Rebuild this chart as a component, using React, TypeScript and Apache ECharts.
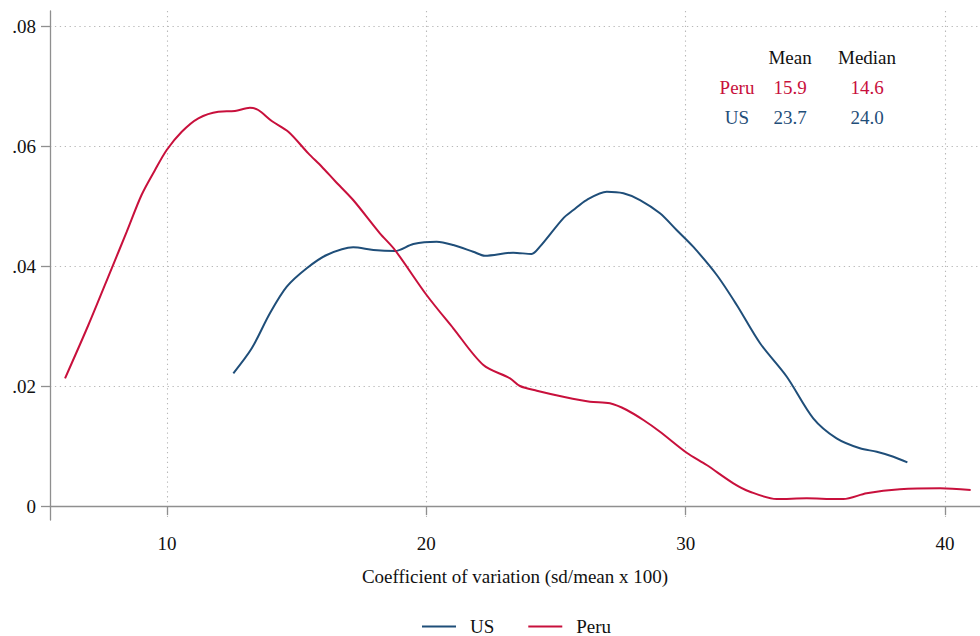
import React, { useEffect, useRef } from "react";
import * as echarts from "echarts";

const peruX = [6.07, 6.97, 7.87, 8.45, 9.02, 9.54, 9.99, 10.57, 11.21, 11.98, 12.62, 13.2, 13.52, 14.04, 14.68, 15.45, 15.97, 16.48, 17.18, 18.21, 18.79, 20.01, 21.04, 22.2, 23.23, 23.61, 24.26, 25.28, 26.31, 27.08, 27.73, 28.37, 29.01, 30.04, 30.81, 31.84, 32.48, 33.51, 34.67, 35.82, 36.08, 36.98, 38.26, 39.81, 40.99];
const peruY = [0.02128, 0.03017, 0.03962, 0.04572, 0.05183, 0.056, 0.05933, 0.06238, 0.06462, 0.06572, 0.06583, 0.06638, 0.066, 0.06417, 0.06238, 0.05878, 0.05655, 0.05417, 0.051, 0.04545, 0.04267, 0.03517, 0.02962, 0.0235, 0.02128, 0.02, 0.01922, 0.01822, 0.01738, 0.01712, 0.016, 0.01433, 0.01238, 0.00888, 0.00683, 0.00378, 0.00238, 0.00117, 0.00128, 0.00117, 0.00117, 0.00212, 0.00278, 0.00295, 0.00267];

const usX = [12.56, 13.27, 13.97, 14.62, 15.39, 16.16, 17.18, 17.96, 18.79, 19.5, 20.4, 21.04, 21.81, 22.26, 23.35, 24.06, 24.38, 25.28, 25.67, 26.18, 26.96, 27.6, 28.24, 29.01, 29.65, 30.29, 31.2, 31.97, 32.87, 33.9, 34.92, 35.82, 36.72, 37.37, 38.01, 38.55];
const usY = [0.02212, 0.02628, 0.03212, 0.03655, 0.03962, 0.04183, 0.04312, 0.04267, 0.0425, 0.04367, 0.04405, 0.0435, 0.04238, 0.04172, 0.04222, 0.042, 0.04322, 0.04795, 0.04933, 0.051, 0.05238, 0.05212, 0.051, 0.04878, 0.046, 0.04322, 0.0385, 0.0335, 0.02712, 0.02155, 0.01462, 0.01128, 0.00962, 0.00905, 0.00822, 0.00728];

const xTicks = [10, 20, 30, 40];
const yTicks = [0, 0.02, 0.04, 0.06, 0.08];

const tableHeader = ["Mean", "Median"];
const tableRows = [
  { name: "Peru", mean: "15.9", median: "14.6" },
  { name: "US", mean: "23.7", median: "24.0" },
];

const BLUE = "#1f4e79";
const RED = "#c8103c";
const FONT = '"Liberation Serif", "Times New Roman", serif';

export default function App() {
  const ref = useRef<HTMLDivElement>(null);
  useEffect(() => {
    if (!ref.current) return;
    const chart = echarts.init(ref.current, null, { renderer: "svg" });
    const grid = { left: 50, top: 11, right: 0, bottom: 116 };
    const axisLine = { show: true, lineStyle: { color: "#8f8f8f", width: 1.3 } };
    const split = { show: true, lineStyle: { color: "#b8b8b8", width: 1.1, type: [1.3, 3.6] as any } };
    const rowColors: Record<string, string> = { Peru: RED, US: BLUE };
    const colX = [737, 790, 867];
    const rowY = [87, 117];
    const graphics: any[] = [];
    tableHeader.forEach((h, i) => {
      graphics.push({
        type: "text",
        x: colX[i + 1],
        y: 57,
        style: { text: h, fill: "#111", font: `19px ${FONT}`, textAlign: "center", textVerticalAlign: "middle" },
      });
    });
    tableRows.forEach((r, i) => {
      [r.name, r.mean, r.median].forEach((t, j) => {
        graphics.push({
          type: "text",
          x: colX[j],
          y: rowY[i],
          style: { text: t, fill: rowColors[r.name], font: `19px ${FONT}`, textAlign: "center", textVerticalAlign: "middle" },
        });
      });
    });
    chart.setOption({
      animation: false,
      textStyle: { fontFamily: FONT },
      grid,
      legend: {
        left: 422,
        top: 617,
        icon: "rect",
        itemWidth: 34,
        itemHeight: 2,
        itemGap: 34,
        padding: 0,
        textStyle: { fontFamily: FONT, fontSize: 19, color: "#111", padding: [0, 0, 0, 9] },
        data: ["US", "Peru"],
      },
      xAxis: {
        type: "value",
        min: 5.49,
        max: 41.35,
        axisLine,
        axisTick: { show: true, length: 9, lineStyle: { color: "#8f8f8f", width: 1.3 }, customValues: xTicks },
        axisLabel: { customValues: xTicks, fontFamily: FONT, fontSize: 19, color: "#111", margin: 14 },
        splitLine: split,
        name: "Coefficient of variation (sd/mean x 100)",
        nameLocation: "middle",
        nameGap: 47,
        nameTextStyle: { fontFamily: FONT, fontSize: 19, color: "#111" },
      },
      yAxis: {
        type: "value",
        min: -0.00233,
        max: 0.0825,
        axisLine,
        axisTick: { show: true, length: 9, lineStyle: { color: "#8f8f8f", width: 1.3 }, customValues: yTicks },
        axisLabel: {
          customValues: yTicks,
          fontFamily: FONT,
          fontSize: 19,
          color: "#111",
          margin: 14,
          formatter: (v: number) => (v === 0 ? "0" : v.toFixed(2).replace(/^0/, "")),
        },
        splitLine: split,
      },
      graphic: graphics,
      series: [
        {
          name: "US",
          type: "line",
          smooth: 0.3,
          symbol: "none",
          lineStyle: { color: BLUE, width: 2 },
          itemStyle: { color: BLUE },
          data: usX.map((x, i) => [x, usY[i]]),
        },
        {
          name: "Peru",
          type: "line",
          smooth: 0.3,
          symbol: "none",
          lineStyle: { color: RED, width: 2 },
          itemStyle: { color: RED },
          data: peruX.map((x, i) => [x, peruY[i]]),
        },
      ],
    });
    return () => chart.dispose();
  }, []);
  return <div ref={ref} style={{ width: 980, height: 636, position: "absolute", left: 0, top: 0 }} />;
}
